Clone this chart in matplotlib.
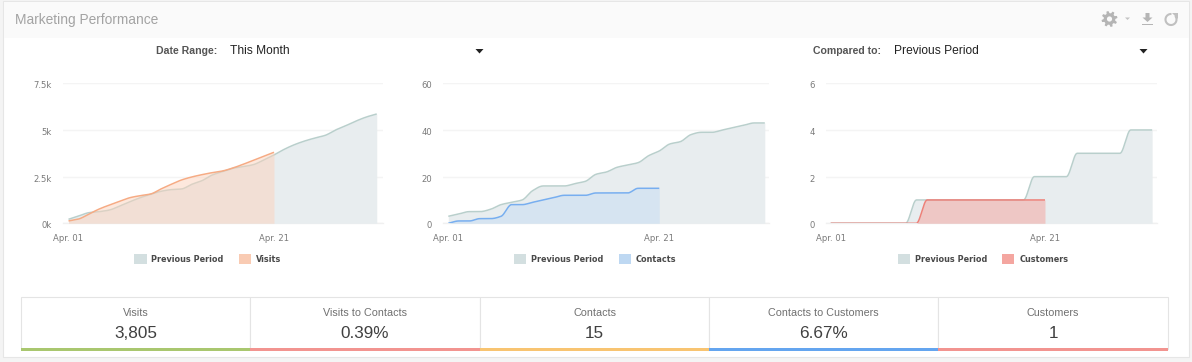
import numpy as np
import matplotlib
matplotlib.use("Agg")
import matplotlib.pyplot as plt
from matplotlib.patches import Rectangle, Patch, Polygon, Arc, Circle
from matplotlib.transforms import ScaledTranslation

W, H = 1192, 362
SANS = "Liberation Sans"
DJV = "DejaVu Sans"

# ---- data ----
tick_days = [0, 20]
tick_names = ["Apr. 01", "Apr. 21"]

visits_prev = [214, 393, 571, 625, 714, 929, 1161, 1375, 1554, 1714, 1804, 1839, 2089, 2286, 2589, 2768,
               2946, 3036, 3143, 3393, 3661, 3964, 4214, 4411, 4571, 4714, 5000, 5232, 5482, 5696, 5857]
visits_cur = [125, 232, 500, 768, 982, 1179, 1375, 1482, 1571, 1839, 2089, 2321, 2482, 2607, 2714, 2804,
              2964, 3161, 3375, 3589, 3805]
contacts_prev = [3, 4, 5, 5, 6, 8, 9, 10, 14, 16, 16, 16, 17, 18, 21, 22, 24, 25, 26, 29, 31, 34, 35,
                 38, 39, 39, 40, 41, 42, 43, 43]
contacts_cur = [0, 1, 1, 2, 2, 3, 8, 8, 9, 10, 11, 12, 12, 12, 13, 13, 13, 13, 15, 15, 15]
customers_prev = [0, 0, 0, 0, 0, 0, 0, 0, 1, 1, 1, 1, 1, 1, 1, 1, 1, 1, 1, 2, 2, 2, 2, 3, 3, 3, 3, 3, 4, 4, 4]
customers_cur = [0, 0, 0, 0, 0, 0, 0, 0, 0, 1, 1, 1, 1, 1, 1, 1, 1, 1, 1, 1, 1]

visits_ticks = [0, 2500, 5000, 7500]
visits_labels = ["0k", "2.5k", "5k", "7.5k"]
contacts_ticks = [0, 20, 40, 60]
customers_ticks = [0, 2, 4, 6]

kpi_names = ["Visits", "Visits to Contacts", "Contacts", "Contacts to Customers", "Customers"]
kpi_values = ["3,805", "0.39%", "15", "6.67%", "1"]
kpi_colors = ["#a9c76f", "#f29490", "#f8c471", "#64a5ef", "#f29490"]


def smooth(y):
    """Monotone cubic curve through the points, for the spline look of the original."""
    y = np.asarray(y, float)
    x = np.arange(len(y))
    d = np.diff(y)
    m = np.zeros(len(y))
    for i in range(1, len(y) - 1):
        if d[i - 1] * d[i] > 0:
            m[i] = 2 * d[i - 1] * d[i] / (d[i - 1] + d[i])
    m[0], m[-1] = d[0], d[-1]
    xs, ys = [], []
    for i in range(len(y) - 1):
        t = np.linspace(0, 1, 12, endpoint=i == len(y) - 2)
        h00 = 2*t**3 - 3*t**2 + 1
        h10 = t**3 - 2*t**2 + t
        h01 = -2*t**3 + 3*t**2
        h11 = t**3 - t**2
        xs.append(x[i] + t)
        ys.append(h00*y[i] + h10*m[i] + h01*y[i+1] + h11*m[i+1])
    return np.concatenate(xs), np.concatenate(ys)


fig = plt.figure(figsize=(W / 100, H / 100), dpi=100, facecolor="#f4f4f4")

# ---- panel chrome, in pixel coordinates ----
bg = fig.add_axes([0, 0, 1, 1], zorder=0)
bg.set_xlim(0, W)
bg.set_ylim(H, 0)
bg.axis("off")
bg.add_patch(Rectangle((3, 1), 1186, 356, fc="white", ec="#e6e6e6", lw=0.8))
bg.add_patch(Rectangle((3.5, 1.5), 1185, 36, fc="#fafafa", ec="none"))
bg.text(15, 20.3, "Marketing Performance", family=SANS, fontsize=9.9, color="#a3a3a3", va="center")

bg.text(217, 51.3, "Date Range:", family=SANS, fontsize=7.55, weight="bold", color="#555555", va="center", ha="right")
bg.text(230, 51.3, "This Month", family=SANS, fontsize=8.65, color="#222222", va="center")
bg.text(881, 51.3, "Compared to:", family=SANS, fontsize=7.55, weight="bold", color="#555555", va="center", ha="right")
bg.text(894, 51.3, "Previous Period", family=SANS, fontsize=8.65, color="#222222", va="center")
for cx in (479.5, 1143.5):
    bg.add_patch(Polygon([(cx - 4, 49), (cx + 4, 49), (cx, 53.5)], fc="#222222", ec="none"))

# toolbar icons
ang = np.deg2rad(np.arange(0, 360, 7.5) + 22.5)
rad = np.tile([8, 8, 8, 5.8, 5.8, 5.8], 8)[:len(ang)]
bg.add_patch(Polygon(np.c_[1109.5 + rad * np.cos(ang), 19 + rad * np.sin(ang)], fc="#b5b5b5", ec="none"))
bg.add_patch(Circle((1109.5, 19), 2.6, fc="#fafafa", ec="none"))
bg.add_patch(Polygon([(1125, 17.5), (1130, 17.5), (1127.5, 20)], fc="#c4c4c4", ec="none"))
bg.add_patch(Polygon([(1145.5, 13), (1149.5, 13), (1149.5, 17.5), (1152.5, 17.5), (1147.5, 22), (1142.5, 17.5), (1145.5, 17.5)],
                     fc="#b5b5b5", ec="none"))
bg.add_patch(Rectangle((1142, 23.5), 11, 1.6, fc="#b5b5b5", ec="none"))
bg.add_patch(Arc((1171, 19.5), 11, 11, theta1=-40, theta2=275, ec="#c0c0c0", lw=1.5))
bg.add_patch(Polygon([(1172, 13), (1177.5, 13), (1177.5, 18.5)], fc="#c0c0c0", ec="none"))

# KPI strip
edges = [21, 250, 480, 709, 938, 1168]
for i, (n, v, c) in enumerate(zip(kpi_names, kpi_values, kpi_colors)):
    x0, x1 = edges[i], edges[i + 1]
    bg.add_patch(Rectangle((x0, 297), x1 - x0, 51.5, fc="white", ec="#e4e4e4", lw=0.8))
    bg.add_patch(Rectangle((x0, 348), x1 - x0, 3, fc=c, ec="none", zorder=3))
    xc = (x0 + x1) / 2
    bg.text(xc, 312.5, n, family=SANS, fontsize=7.75, color="#707070", ha="center", va="center")
    bg.text(xc, 333, v, family=SANS, fontsize=12.3, color="#404040", ha="center", va="center")


# ---- charts ----
def chart(grid, first, last21, prev, cur, ticks, labels, name, line, fill, swatch, legend_cx):
    gx0, gx1 = grid
    top, bottom = 83.3, 223.3
    ax = fig.add_axes([gx0 / W, 1 - bottom / H, (gx1 - gx0) / W, (bottom - top) / H], zorder=2)
    ax.patch.set_alpha(0)
    step = (last21 - first) / 20
    ax.set_xlim((gx0 - first) / step, (gx1 - first) / step)
    ax.set_ylim(0, ticks[-1])
    for s in ax.spines.values():
        s.set_visible(False)
    ax.set_axisbelow(True)
    ax.grid(axis="y", color="#f4f4f4", lw=1)
    ax.axhline(0, color="#f0f0f0", lw=1, zorder=1, clip_on=False)
    ax.set_yticks(ticks, labels)
    ax.set_xticks(tick_days, tick_names)
    ax.tick_params(length=0, labelsize=6.1, labelcolor="#7a7a7a")
    ax.tick_params(axis="y", pad=8)
    ax.tick_params(axis="x", pad=7.5)
    shift = ScaledTranslation(0, -1.5 / 100, fig.dpi_scale_trans)
    for lab in ax.get_yticklabels():
        lab.set_family(DJV)
        lab.set_transform(lab.get_transform() + shift)
    for lab in ax.get_xticklabels():
        lab.set_family(DJV)

    xp, yp = smooth(prev)
    ax.fill_between(xp, 0, yp, color="#e8edef", lw=0, zorder=2)
    ax.plot(xp, yp, color="#b9cfcc", lw=1.1, zorder=3, solid_capstyle="butt")
    xc, yc = smooth(cur)
    ax.fill_between(xc, 0, yc, color=fill, alpha=0.5, lw=0, zorder=4)
    ax.plot(xc, yc, color=line, lw=1.1, zorder=5, solid_capstyle="butt")

    handles = [Patch(fc="#d3dfe0", ec="none", label="Previous Period"), Patch(fc=swatch, ec="none", label=name)]
    ax.legend(handles=handles, loc="center", bbox_to_anchor=(legend_cx / W, 1 - 259 / H),
              bbox_transform=fig.transFigure, frameon=False, ncol=2, handlelength=1.5, handleheight=1.5,
              handletextpad=0.6, columnspacing=1.9, borderpad=0, borderaxespad=0,
              prop={"family": DJV, "weight": "bold", "size": 5.85}, labelcolor="#4a4a4a")


chart((63, 383), 68.5, 274, visits_prev, visits_cur, visits_ticks, visits_labels, "Visits",
      "#f6ab84", "#fcd3bd", "#f9cbb3", 208)
chart((443, 769), 448.3, 659.3, contacts_prev, contacts_cur, contacts_ticks, [str(t) for t in contacts_ticks],
      "Contacts", "#77aef0", "#c6ddf3", "#bed8f2", 595.5)
chart((826, 1157), 830.7, 1045, customers_prev, customers_cur, customers_ticks, [str(t) for t in customers_ticks],
      "Customers", "#ee8078", "#f4a39d", "#f4a6a0", 983)

fig.savefig("out.png", dpi=100, facecolor=fig.get_facecolor())
